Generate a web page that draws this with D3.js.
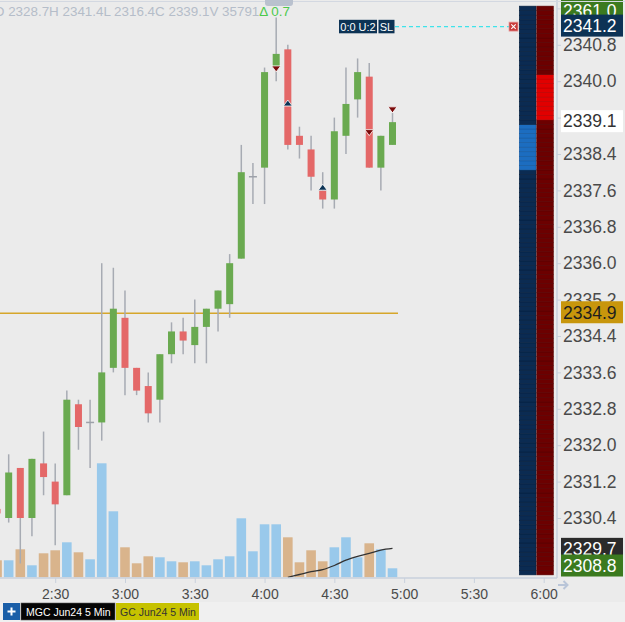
<!DOCTYPE html>
<html>
<head>
<meta charset="utf-8">
<script src="https://cdn.jsdelivr.net/npm/d3@7"></script>
<style>
  body { margin: 0; background: #ebebeb; }
  svg { display: block; font-family: "Liberation Sans", Arial, sans-serif; }
</style>
</head>
<body>
<div id="chart"></div>
<script>
// 5 minute bars, MGC Jun24
const times   = ["2:05","2:10","2:15","2:20","2:25","2:30","2:35","2:40","2:45","2:50","2:55",
                 "3:00","3:05","3:10","3:15","3:20","3:25","3:30","3:35","3:40","3:45","3:50","3:55",
                 "4:00","4:05","4:10","4:15","4:20","4:25","4:30","4:35","4:40","4:45","4:50","4:55"];
const opens   = [2330.6,2330.4,2331.5,2330.4,2331.6,2331.2,2330.9,2332.9,2332.5,2332.5,2333.7,
                 2334.8,2333.7,2333.3,2333.0,2334.0,2334.5,2334.2,2334.6,2335.0,2335.1,2336.1,2337.9,
                 2338.1,2340.3,2340.7,2338.8,2338.5,2337.6,2337.4,2338.8,2339.6,2340.1,2338.1,2338.6];
const highs   = [2330.7,2331.8,2331.5,2331.7,2332.3,2331.6,2333.2,2333.0,2333.0,2336.0,2335.9,
                 2335.4,2333.7,2333.6,2334.0,2334.7,2334.8,2335.2,2335.0,2335.4,2336.2,2338.6,2338.2,
                 2340.3,2341.4,2340.8,2339.0,2338.8,2338.0,2339.2,2340.3,2340.5,2340.4,2338.8,2339.3];
const lows    = [2330.4,2330.3,2329.4,2330.0,2330.9,2329.8,2330.9,2331.9,2331.5,2332.1,2333.6,
                 2333.1,2333.1,2332.5,2332.5,2333.8,2334.0,2333.8,2333.8,2334.5,2334.8,2336.1,2337.3,
                 2337.3,2340.0,2338.5,2338.3,2337.6,2337.2,2337.2,2338.4,2339.2,2338.1,2337.6,2338.6];
const closes  = [2330.5,2331.4,2330.4,2331.7,2331.3,2330.7,2333.0,2332.4,2332.5,2333.6,2335.0,
                 2333.7,2333.2,2332.7,2334.0,2334.5,2334.3,2334.6,2335.0,2335.4,2336.0,2338.0,2337.9,
                 2340.2,2340.6,2338.6,2338.6,2337.9,2337.4,2338.9,2339.5,2340.2,2338.1,2338.8,2339.1];
const volumes = [170,170,280,120,240,270,350,250,180,1140,660,
                 300,140,210,200,160,150,160,120,180,210,590,260,
                 530,530,400,150,270,160,300,400,200,340,280,90];

// volume average line (only the visible part)
const maTimes  = ["4:10","4:15","4:20","4:25","4:30","4:35","4:40","4:45","4:50","4:55"];
const maValues = [0, 28, 56, 77, 118, 171, 209, 239, 272, 289];

// executions
const markTimes  = ["4:05","4:10","4:25","4:45","4:55"];
const markPrices = [2340.27, 2339.52, 2337.67, 2338.87, 2339.37];
const markSides  = ["sell","buy","buy","sell","sell"];

// axis ticks
const priceTicks = [2330.4,2331.2,2332.0,2332.8,2333.6,2334.4,2335.2,2336.0,2336.8,2337.6,2338.4,2339.2,2340.0,2340.8,2341.6];
const timeTicks  = ["2:00","2:30","3:00","3:30","4:00","4:30","5:00","5:30","6:00"];

// price tags on the right scale
const tagPrices = [2361.0, 2341.2, 2339.1, 2334.9, 2329.7, 2308.8];

// levels
const lastLevel = 2334.9;
const stopLevel = 2341.2;
const bidHighlight = [2338.1, 2339.0];
const askHighlight = [2339.2, 2340.1];

const header = "O 2328.7H 2341.4L 2316.4C 2339.1V 35791";
const headerDelta = "Δ 0.7";
const tabs = ["MGC Jun24 5 Min", "GC Jun24 5 Min"];

const width = 625, height = 622;
const plotW = 557, plotH = 578;

const t = s => { const [h, m] = s.split(":").map(Number); return new Date(2024, 3, 25, h, m); };

const svg = d3.select("#chart").append("svg")
    .attr("width", width)
    .attr("height", height);

svg.append("rect").attr("width", width).attr("height", height).attr("fill", "#ebebeb");
svg.append("rect").attr("y", 602).attr("width", width).attr("height", 20).attr("fill", "#f0f0f0");

const defs = svg.append("defs");
defs.append("clipPath").attr("id", "plotClip")
    .append("rect").attr("width", plotW).attr("height", plotH);
defs.append("clipPath").attr("id", "axisClip")
    .append("rect").attr("y", plotH).attr("width", plotW + 1).attr("height", 24);

// Scales
const x = d3.scaleTime().domain([t("2:30"), t("6:00")]).range([55.2, 543.7]);
const y = d3.scaleLinear().domain([2330.4, 2340.8]).range([518, 44.8]);
const yVol = d3.scaleLinear().domain([0, 1200]).range([577.3, 457.3]);

const bars = times.map((s, i) => ({ t: t(s), o: opens[i], h: highs[i], l: lows[i], c: closes[i], v: volumes[i] }));

const plot = svg.append("g").attr("clip-path", "url(#plotClip)");

// Volume
plot.selectAll(".vol")
    .data(bars)
    .enter().append("rect")
    .attr("x", d => x(d.t) - 4.8)
    .attr("y", d => yVol(d.v))
    .attr("width", 9.6)
    .attr("height", d => yVol(0) - yVol(d.v))
    .attr("fill", d => d.c >= d.o ? "#99c9eb" : "#d9b48c");

plot.append("path")
    .datum(maTimes.map((s, i) => ({ t: t(s), v: maValues[i] })))
    .attr("fill", "none")
    .attr("stroke", "#333")
    .attr("stroke-width", 1.3)
    .attr("d", d3.line().x(d => x(d.t)).y(d => yVol(d.v)).curve(d3.curveMonotoneX));

// Last price line
plot.append("line")
    .attr("x1", 0).attr("x2", 398)
    .attr("y1", y(lastLevel)).attr("y2", y(lastLevel))
    .attr("stroke", "#d6a62a").attr("stroke-width", 1.5);

// Wicks
plot.selectAll(".wick")
    .data(bars)
    .enter().append("line")
    .attr("x1", d => x(d.t)).attr("x2", d => x(d.t))
    .attr("y1", d => y(d.h)).attr("y2", d => y(d.l))
    .attr("stroke", "#a7abb3").attr("stroke-width", 1.5);

// Bodies
plot.selectAll(".body")
    .data(bars.filter(d => d.o !== d.c))
    .enter().append("rect")
    .attr("x", d => x(d.t) - 3.5)
    .attr("y", d => y(Math.max(d.o, d.c)))
    .attr("width", 7)
    .attr("height", d => Math.abs(y(d.o) - y(d.c)))
    .attr("fill", d => d.c > d.o ? "#6aaa50" : "#e46868");

plot.selectAll(".doji")
    .data(bars.filter(d => d.o === d.c))
    .enter().append("line")
    .attr("x1", d => x(d.t) - 4).attr("x2", d => x(d.t) + 4)
    .attr("y1", d => y(d.o)).attr("y2", d => y(d.o))
    .attr("stroke", "#9da1a9").attr("stroke-width", 1.5);

// Execution markers
plot.selectAll(".mark")
    .data(markTimes.map((s, i) => ({ t: t(s), p: markPrices[i], side: markSides[i] })))
    .enter().append("path")
    .attr("transform", d => `translate(${x(d.t)},${y(d.p)})`)
    .attr("d", d => d.side === "sell" ? "M-4.5,-3L4.5,-3L0,3Z" : "M-4.5,3L4.5,3L0,-3Z")
    .attr("fill", d => d.side === "sell" ? "#7a0a0a" : "#0d3355")
    .attr("stroke", "#fff").attr("stroke-width", 0.8);

// Depth ladder
const levels = d3.range(23292, 23417).map(v => v / 10);
const ladder = svg.append("g").attr("clip-path", "url(#ladderClip)");
defs.append("clipPath").attr("id", "ladderClip")
    .append("rect").attr("x", 518).attr("y", 4).attr("width", 36).attr("height", 573);
const inRange = (p, r) => p >= r[0] - 0.001 && p <= r[1] + 0.001;
ladder.selectAll(".bid")
    .data(levels)
    .enter().append("rect")
    .attr("x", 519.3).attr("width", 16.7)
    .attr("y", d => y(d + 0.05)).attr("height", d => y(d - 0.05) - y(d + 0.05))
    .attr("fill", d => inRange(d, bidHighlight) ? "#1c6dc0" : "#0b2b52")
    .attr("stroke", d => inRange(d, bidHighlight) ? "#165aa0" : "#07203f")
    .attr("stroke-width", 0.6);
ladder.selectAll(".ask")
    .data(levels)
    .enter().append("rect")
    .attr("x", 536.8).attr("width", 16.5)
    .attr("y", d => y(d + 0.05)).attr("height", d => y(d - 0.05) - y(d + 0.05))
    .attr("fill", d => inRange(d, askHighlight) ? "#e10000" : "#6c0000")
    .attr("stroke", d => inRange(d, askHighlight) ? "#b80000" : "#560000")
    .attr("stroke-width", 0.6);

// Stop order line
const sy = y(stopLevel);
svg.append("line")
    .attr("x1", 395).attr("x2", 509)
    .attr("y1", sy).attr("y2", sy)
    .attr("stroke", "#3fe3ea").attr("stroke-width", 1.2)
    .attr("stroke-dasharray", "4,3");
svg.append("rect").attr("x", 339).attr("y", sy - 6.8).attr("width", 38).attr("height", 13.5).attr("fill", "#0d3355");
svg.append("text").attr("x", 358).attr("y", sy + 4).attr("text-anchor", "middle")
    .attr("fill", "#fff").style("font-size", "11px").text("0:0 U:2");
svg.append("rect").attr("x", 378.5).attr("y", sy - 6.8).attr("width", 16).attr("height", 13.5).attr("fill", "#0d3355");
svg.append("text").attr("x", 386.5).attr("y", sy + 4).attr("text-anchor", "middle")
    .attr("fill", "#fff").style("font-size", "11px").text("SL");
svg.append("rect").attr("x", 509).attr("y", sy - 4.5).attr("width", 9).attr("height", 9)
    .attr("fill", "#c83a3a").attr("stroke", "#e8a0a0").attr("stroke-width", 0.8);
svg.append("path").attr("d", `M511.3,${sy - 2.2}L515.7,${sy + 2.2}M515.7,${sy - 2.2}L511.3,${sy + 2.2}`)
    .attr("stroke", "#fff").attr("stroke-width", 1.1);

// Axes
const axisColor = "#c9d1dd";
svg.append("line").attr("x1", plotW).attr("x2", plotW).attr("y1", 0).attr("y2", plotH)
    .attr("stroke", axisColor).attr("stroke-width", 1.5);
svg.append("line").attr("x1", 0).attr("x2", plotW).attr("y1", plotH).attr("y2", plotH)
    .attr("stroke", axisColor).attr("stroke-width", 1.5);

const yAxis = svg.append("g")
    .attr("transform", `translate(${plotW},0)`)
    .call(d3.axisRight(y).tickValues(priceTicks).tickSize(4).tickPadding(2).tickFormat(d3.format(".1f")));
yAxis.select(".domain").remove();
yAxis.selectAll(".tick line").attr("stroke", axisColor);
yAxis.selectAll(".tick text")
    .attr("fill", "#4a4a4a")
    .style("font-family", "'Liberation Sans', Arial, sans-serif")
    .style("font-size", "17.5px");

const xAxis = svg.append("g")
    .attr("clip-path", "url(#axisClip)")
    .append("g")
    .attr("transform", `translate(0,${plotH})`)
    .call(d3.axisBottom(x).tickValues(timeTicks.map(t)).tickSize(5).tickPadding(6).tickFormat(d3.timeFormat("%-I:%M")));
xAxis.select(".domain").remove();
xAxis.selectAll(".tick line").attr("stroke", axisColor);
xAxis.selectAll(".tick text")
    .attr("fill", "#4a4a4a")
    .style("font-family", "'Liberation Sans', Arial, sans-serif")
    .style("font-size", "14px");

svg.append("path").attr("d", "M558,585L567,585M563.5,581L567.5,585L563.5,589")
    .attr("fill", "none").attr("stroke", "#b9c5d8").attr("stroke-width", 2);

// Price tags
const tagFill = ["#3b7a1f", "#0d3355", "#ffffff", "#c8960c", "#2b2b2b", "#3b7a1f"];
const tagText = ["#ffffff", "#ffffff", "#333333", "#1e1e1e", "#ffffff", "#ffffff"];
const tagY = p => Math.max(11, Math.min(565.5, y(p) - 1));
const tags = svg.selectAll(".tag")
    .data(tagPrices)
    .enter().append("g")
    .attr("transform", d => `translate(561,${tagY(d)})`);
tags.append("rect")
    .attr("y", -11).attr("width", 62).attr("height", 22)
    .attr("fill", (d, i) => tagFill[i]);
tags.append("text")
    .attr("x", 2).attr("dy", "0.36em")
    .attr("fill", (d, i) => tagText[i])
    .style("font-size", "17.5px")
    .text(d => d3.format(".1f")(d));

// Header
svg.append("line").attr("x1", 0).attr("x2", width).attr("y1", 1.5).attr("y2", 1.5)
    .attr("stroke", "#d3d8e1").attr("stroke-width", 1);
const head = svg.append("text").attr("x", -6).attr("y", 16).style("font-size", "13.4px");
head.append("tspan").attr("fill", "#b5bdc9").text(header);
head.append("tspan").attr("fill", "#4cc94c").text(headerDelta);
svg.append("rect").attr("x", 265).attr("y", -4).attr("width", 28).attr("height", 10).attr("rx", 3)
    .attr("fill", "#b9c1ce");

// Tabs
svg.append("rect").attr("x", 3).attr("y", 603).attr("width", 17).attr("height", 17).attr("fill", "#1b5fa8");
svg.append("path").attr("d", "M7.5,611.5L15.5,611.5M11.5,607.5L11.5,615.5")
    .attr("stroke", "#fff").attr("stroke-width", 2);
svg.append("rect").attr("x", 21).attr("y", 603).attr("width", 94).attr("height", 17)
    .attr("fill", "#050505").attr("stroke", "#555").attr("stroke-width", 0.6);
svg.append("text").attr("x", 26).attr("y", 615.5).attr("fill", "#fff").style("font-size", "10.5px").text(tabs[0]);
svg.append("rect").attr("x", 116).attr("y", 603).attr("width", 83).attr("height", 17).attr("fill", "#c6c200");
svg.append("text").attr("x", 120).attr("y", 615.5).attr("fill", "#333").style("font-size", "10.5px").text(tabs[1]);
</script>
</body>
</html>
